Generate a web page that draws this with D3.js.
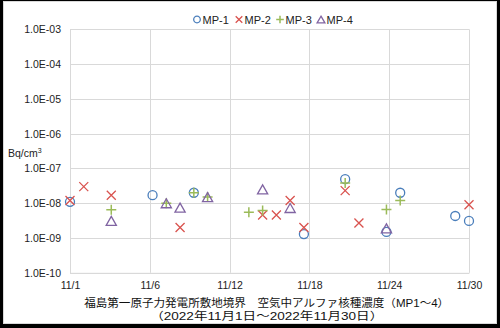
<!DOCTYPE html>
<html><head><meta charset="utf-8">
<script src="https://cdn.jsdelivr.net/npm/d3@7"></script>
<style>html,body{margin:0;padding:0;background:#fff}svg{display:block}</style>
</head><body>
<svg id="c" width="500" height="328"></svg>
<script>
// ---- data ----
const xTickDays = [1, 6.8, 12.6, 18.4, 24.2, 30];
const xTickLabels = ["11/1", "11/6", "11/12", "11/18", "11/24", "11/30"];
const yTicks = [1e-10, 1e-9, 1e-8, 1e-7, 1e-6, 1e-5, 1e-4, 1e-3];
const yTickLabels = ["1.0E-10", "1.0E-09", "1.0E-08", "1.0E-07", "1.0E-06", "1.0E-05", "1.0E-04", "1.0E-03"];
const seriesNames = ["MP-1", "MP-2", "MP-3", "MP-4"];
const mp1Days = [1, 7, 10, 18, 21, 24, 25, 29, 30];
const mp1Vals = [1.1e-8, 1.7e-8, 2.0e-8, 1.3e-9, 4.9e-8, 1.5e-9, 2.0e-8, 4.3e-9, 3.1e-9];
const mp2Days = [1, 2, 4, 9, 15, 16, 17, 18, 21, 22, 30];
const mp2Vals = [1.2e-8, 3.0e-8, 1.7e-8, 2.0e-9, 4.6e-9, 4.6e-9, 1.2e-8, 2.0e-9, 2.3e-8, 2.7e-9, 9.0e-9];
const mp3Days = [4, 8, 10, 11, 14, 15, 21, 24, 25];
const mp3Vals = [6.5e-9, 1.0e-8, 2.0e-8, 1.5e-8, 5.5e-9, 6.2e-9, 3.8e-8, 6.6e-9, 1.2e-8];
const mp4Days = [4, 8, 9, 11, 15, 17, 24];
const mp4Vals = [3.1e-9, 1.0e-8, 7.5e-9, 1.5e-8, 2.5e-8, 7.3e-9, 1.9e-9];
const unitLabel = "Bq/cm";
const title1 = "福島第一原子力発電所敷地境界　空気中アルファ核種濃度（MP1～4）";
const title2 = "（2022年11月1日～2022年11月30日）";

// ---- styles ----
const colors = ["#4A7EBB", "#D9534F", "#9BBB59", "#8064A2"];
const shapes = ["circle", "x", "plus", "tri"];
const font = "'Liberation Sans', Arial, sans-serif";
const cjk = "'Liberation Sans', 'Noto Sans CJK JP', sans-serif";

const svg = d3.select("#c");
// frame
svg.append("rect").attr("x", 0).attr("y", 0).attr("width", 500).attr("height", 328).attr("fill", "#000");
svg.append("rect").attr("x", 3).attr("y", 1).attr("width", 494).attr("height", 323).attr("fill", "#fff");
svg.append("rect").attr("x", 3.5).attr("y", 1.5).attr("width", 493).attr("height", 322)
  .attr("fill", "none").attr("stroke", "#d9d9d9").attr("stroke-width", 1);

const x = d3.scaleLinear().domain([1, 30]).range([70, 469]);
const y = d3.scaleLog().domain([1e-10, 1e-3]).range([272.8, 29.3]);

// gridlines
const g = svg.append("g");
g.selectAll("line.h").data(yTicks).join("line")
  .attr("x1", x(1)).attr("x2", x(30))
  .attr("y1", d => Math.round(y(d)) + 0.5).attr("y2", d => Math.round(y(d)) + 0.5)
  .attr("stroke", "#d9d9d9").attr("stroke-width", 1);
g.selectAll("line.v").data(xTickDays).join("line")
  .attr("x1", d => Math.round(x(d)) + 0.5).attr("x2", d => Math.round(x(d)) + 0.5)
  .attr("y1", y(1e-3)).attr("y2", y(1e-10))
  .attr("stroke", "#d9d9d9").attr("stroke-width", 1);

// y axis labels
const yAxis = d3.axisLeft(y).tickValues(yTicks).tickSize(0).tickPadding(9)
  .tickFormat((d, i) => yTickLabels[i]);
const ya = svg.append("g").attr("transform", "translate(70,0)").call(yAxis);
ya.select(".domain").attr("stroke", "#d9d9d9");
ya.selectAll("text").attr("font-family", font).attr("font-size", 10.5).attr("fill", "#222");

// x axis labels
const xAxis = d3.axisBottom(x).tickValues(xTickDays).tickSize(0).tickPadding(9)
  .tickFormat((d, i) => xTickLabels[i]);
const xa = svg.append("g").attr("transform", "translate(0,272.8)").call(xAxis);
xa.select(".domain").attr("stroke", "#d9d9d9");
xa.selectAll("text").attr("font-family", font).attr("font-size", 10.5).attr("fill", "#222");

// unit label
const ut = svg.append("text").attr("x", 8).attr("y", 157).attr("font-family", font)
  .attr("font-size", 10.5).attr("fill", "#222").text(unitLabel);
ut.append("tspan").attr("font-size", 7).attr("dy", -4).text("3");

// markers
function drawMarker(sel, shape, color, s) {
  if (shape === "circle") {
    sel.append("circle").attr("r", s).attr("fill", "none").attr("stroke", color).attr("stroke-width", 1.3);
  } else if (shape === "x") {
    sel.append("path").attr("d", `M${-s},${-s}L${s},${s}M${-s},${s}L${s},${-s}`)
      .attr("stroke", color).attr("stroke-width", 1.3).attr("fill", "none");
  } else if (shape === "plus") {
    sel.append("path").attr("d", `M${-s - 0.5},0L${s + 0.5},0M0,${-s - 0.5}L0,${s + 0.5}`)
      .attr("stroke", color).attr("stroke-width", 1.5).attr("fill", "none");
  } else {
    sel.append("path").attr("d", `M0,${-s}L${s + 0.6},${s}L${-s - 0.6},${s}Z`)
      .attr("stroke", color).attr("stroke-width", 1.3).attr("fill", "none");
  }
}
const series = [[mp1Days, mp1Vals], [mp2Days, mp2Vals], [mp3Days, mp3Vals], [mp4Days, mp4Vals]];
series.forEach(([days, vals], si) => {
  const pts = days.map((d, i) => ({ d, v: vals[i] }));
  const sg = svg.append("g");
  sg.selectAll("g").data(pts).join("g")
    .attr("transform", p => `translate(${x(p.d)},${y(p.v)})`)
    .each(function () { drawMarker(d3.select(this), shapes[si], colors[si], 4.5); });
});

// legend
const legX = [197, 239, 280, 321];
const lg = svg.append("g");
seriesNames.forEach((n, i) => {
  const it = lg.append("g").attr("transform", `translate(${legX[i]},19.5)`);
  drawMarker(it, shapes[i], colors[i], 3.3);
  it.append("text").attr("x", 5.5).attr("y", 4).attr("font-family", font)
    .attr("font-size", 11).attr("fill", "#222").text(n);
});

// title
svg.append("text").attr("x", 266.7).attr("y", 307.3).attr("text-anchor", "middle")
  .attr("font-family", cjk).attr("font-size", 10.8).attr("fill", "#111")
  .attr("textLength", 365).attr("lengthAdjust", "spacingAndGlyphs").text(title1);
svg.append("text").attr("x", 266.7).attr("y", 320.2).attr("text-anchor", "middle")
  .attr("font-family", cjk).attr("font-size", 10.8).attr("fill", "#111")
  .attr("textLength", 233).attr("lengthAdjust", "spacingAndGlyphs").text(title2);
</script>
</body></html>
